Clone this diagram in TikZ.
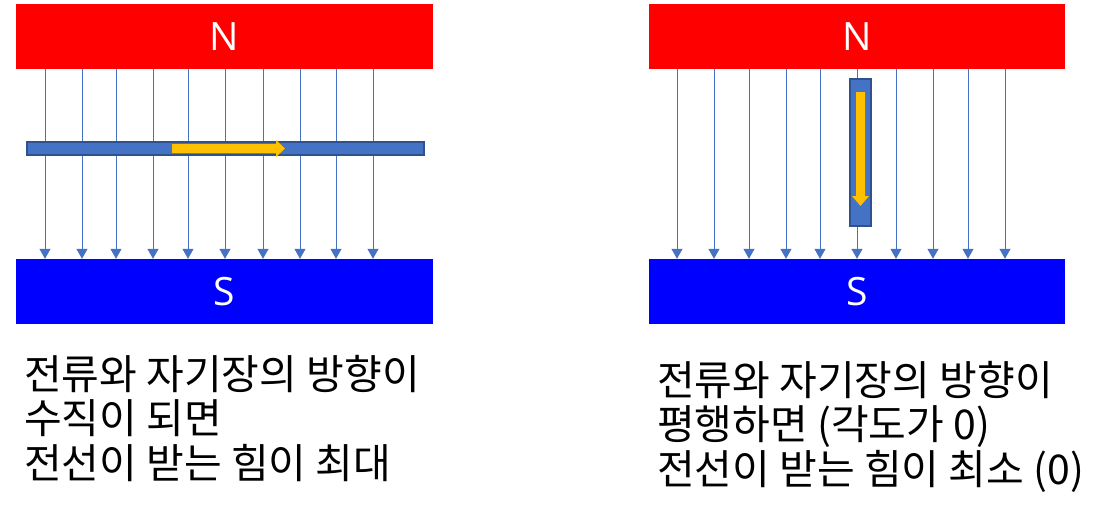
\documentclass[tikz,border=0pt]{standalone}
\usepackage{fontspec}
\setmainfont{Open Sans}
\newfontfamily\kr{Noto Sans CJK KR}
\usetikzlibrary{arrows.meta}
\definecolor{magN}{HTML}{FF0000}
\definecolor{magS}{HTML}{0000FF}
\definecolor{fieldc}{HTML}{4472C4}
\definecolor{wireedge}{HTML}{2F528F}
\definecolor{curc}{HTML}{FFC000}
\tikzset{
  magnet/.style={rectangle, inner sep=0pt, text=white, font=\fontsize{39}{39}\selectfont},
  fieldline/.style={draw=fieldc, line width=1pt, -{Triangle[length=10pt,width=11pt]}},
  wirebox/.style={fill=fieldc, draw=wireedge, line width=1.4pt},
  current/.style={fill=curc, draw=none},
  caption/.style={inner sep=0pt, anchor=north west, align=left, font=\kr\fontsize{41}{44.5}\selectfont}
}
\begin{document}
\begin{tikzpicture}[x=1pt,y=-1pt]
\useasboundingbox (0,0) rectangle (1112,520);
% left panel
\node[magnet, fill=magN, minimum width=417pt, minimum height=65pt] (nL) at (224.5,36.5) {N};
\node[magnet, fill=magS, minimum width=417pt, minimum height=65pt] (sL) at (224.5,291.5) {S};
\foreach \x in {45,82,116,153,188,225,263,300,336,373}
  \draw[fieldline] (\x,0 |- nL.south) -- (\x,0 |- sL.north);
\node[wirebox, rectangle, inner sep=0pt, minimum width=397pt, minimum height=13pt] (wL) at (225.5,148.5) {};
\fill[current] (172,144) -- (276,144) -- (276,140) -- (285,148.5) -- (276,157) -- (276,153) -- (172,153) -- cycle;
\node[caption] (tL) at (24,355) {전류와 자기장의 방향이\\수직이 되면\\전선이 받는 힘이 최대};
% right panel
\node[magnet, fill=magN, minimum width=416pt, minimum height=65pt] (nR) at (857,36.5) {N};
\node[magnet, fill=magS, minimum width=416pt, minimum height=65pt] (sR) at (857,291.5) {S};
\foreach \x in {677,714,749,786,820,857,896,933,968,1005}
  \draw[fieldline] (\x,0 |- nR.south) -- (\x,0 |- sR.north);
\node[wirebox, rectangle, inner sep=0pt, minimum width=21pt, minimum height=147pt] (wR) at (860.5,152.5) {};
\fill[current] (856,92) -- (865,92) -- (865,196) -- (869,196) -- (860.5,206) -- (852,196) -- (856,196) -- cycle;
\node[caption] (tR) at (657,361) {전류와 자기장의 방향이\\평행하면 (각도가 0)\\전선이 받는 힘이 최소 (0)};
\end{tikzpicture}
\end{document}
